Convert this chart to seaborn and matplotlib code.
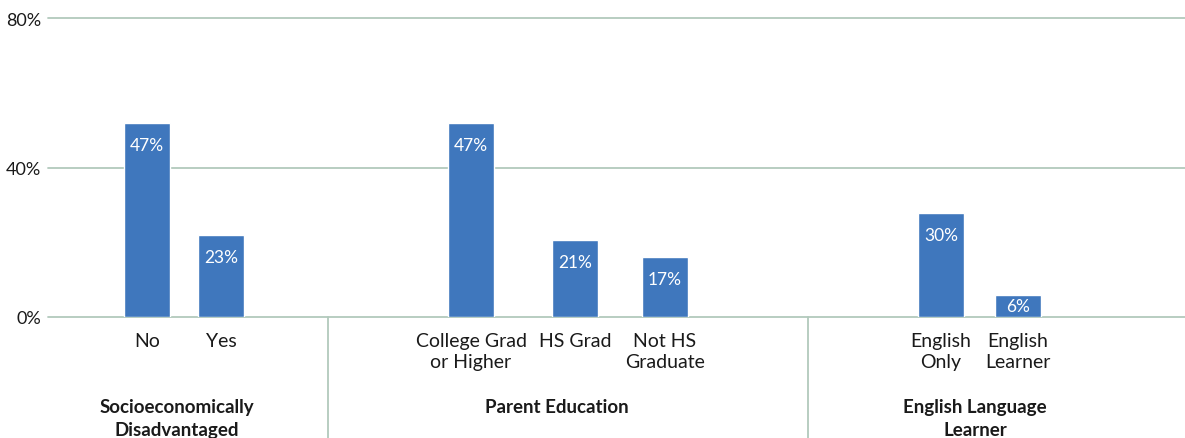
import pandas as pd
import seaborn as sns
import matplotlib.pyplot as plt
import matplotlib.transforms as mtransforms

# Values
categories = ["No", "Yes", "College Grad\nor Higher", "HS Grad", "Not HS\nGraduate",
              "English\nOnly", "English\nLearner"]
bar_heights = [52, 22, 52, 20.6, 16, 27.8, 5.9]
bar_labels = ["47%", "23%", "47%", "21%", "17%", "30%", "6%"]
groups = ["Socioeconomically\nDisadvantaged", "Parent Education", "English Language\nLearner"]
y_ticks = [0, 40, 80]
y_tick_labels = ["0%", "40%", "80%"]

# layout (x in pixel-like units across the axis)
x_pos = [147, 221, 471, 575, 665, 941, 1018]
group_x = [177, 557, 975]
separators = [328, 808]

bar_color = "#3f77bd"
grid_color = "#b2c9bc"
text_color = "#1a1a1a"

sns.set_style("white")
plt.rcParams["font.family"] = ["Lato", "DejaVu Sans"]

df = pd.DataFrame({"x": x_pos, "value": bar_heights, "cat": categories})

fig = plt.figure(figsize=(11.85, 4.39), dpi=100)
ax = fig.add_axes([48 / 1185, 121 / 439, 1137 / 1185, 299 / 439])

sns.barplot(data=df, x="x", y="value", native_scale=True, color=bar_color,
            width=46 / 74, ax=ax, zorder=3, saturation=1)

# force exact bar widths
for p, xc in zip(ax.patches, x_pos):
    p.set_width(46)
    p.set_x(xc - 23)

ax.set_xlim(48, 1185)
ax.set_ylim(0, 80)
for y in y_ticks:
    ax.axhline(y, color=grid_color, lw=1.3, zorder=1, clip_on=False)
for s in ax.spines.values():
    s.set_visible(False)

ax.set_yticks(y_ticks)
ax.set_yticklabels(y_tick_labels, fontsize=13, color=text_color)
ax.set_xticks(x_pos)
ax.set_xticklabels(categories, fontsize=14, color=text_color, linespacing=1.3)
ax.tick_params(axis="both", length=0)
ax.tick_params(axis="x", pad=11)
ax.tick_params(axis="y", pad=5)
ax.set_xlabel("")
ax.set_ylabel("")

# value labels inside bars
px_per_unit = 299 / 80
for xc, h, lab in zip(x_pos, bar_heights, bar_labels):
    off_px = min(22, h * px_per_unit / 2)
    ax.annotate(lab, (xc, h), xytext=(0, -off_px * 72 / 100), textcoords="offset points",
                ha="center", va="center", color="white", fontsize=12.5, zorder=4)

trans = mtransforms.blended_transform_factory(ax.transData, ax.transAxes)
for xs in separators:
    ax.plot([xs, xs], [0, -0.41], color=grid_color, lw=1.3, transform=trans, clip_on=False)
for gx, g in zip(group_x, groups):
    ax.text(gx, -0.27, g, transform=trans, ha="center", va="top", fontsize=13.5,
            fontweight="bold", color=text_color, linespacing=1.45)

fig.savefig("out.png", dpi=100)
